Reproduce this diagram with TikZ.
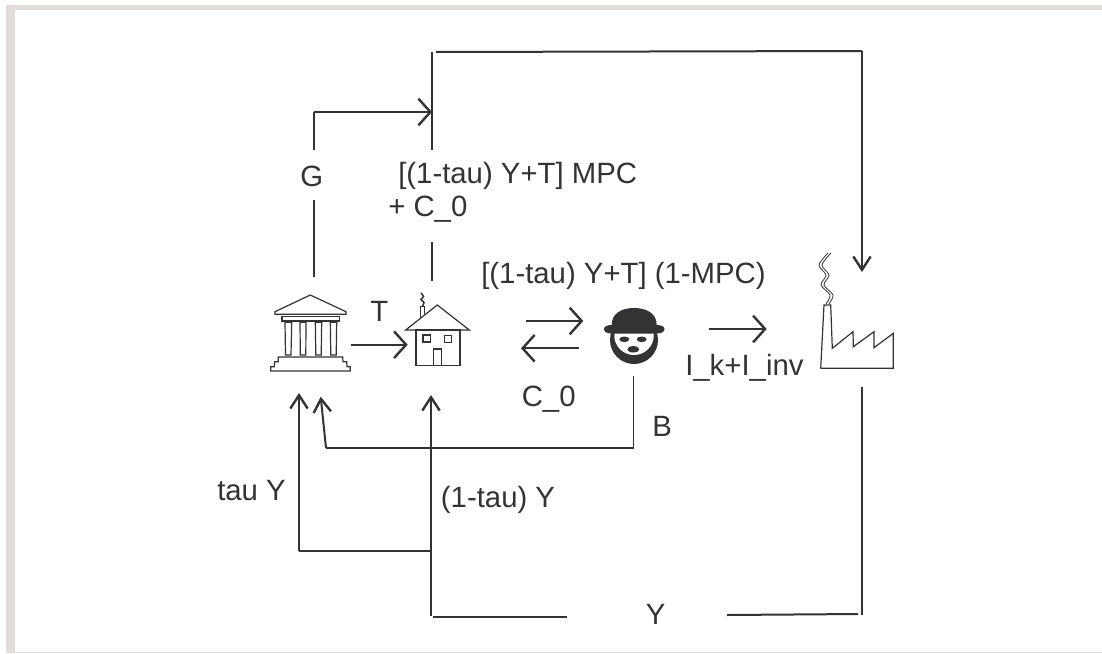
\documentclass[tikz,border=0pt]{standalone}
\usepackage{fontspec}
\setmainfont{Liberation Sans}
\usetikzlibrary{arrows.meta}
\definecolor{inkgrey}{HTML}{333336}
\definecolor{framegrey}{HTML}{E2DDDB}
\tikzset{
  label/.style={anchor=base west,inner sep=0pt,text=inkgrey,font=\fontsize{22}{26}\selectfont},
  flow/.style={draw=inkgrey,line width=1.5pt},
  thinflow/.style={draw=inkgrey,line width=1pt},
  icon/.style={draw=inkgrey,line width=.9pt,line join=miter},
  wide/.style={-{Straight Barb[length=9pt,width=20pt,line width=1.8pt]}},
  narrow/.style={-{Straight Barb[length=10pt,width=13pt,line width=1.8pt]}}
}
\begin{document}
\begin{tikzpicture}[x=.75pt,y=-.75pt]
      \useasboundingbox (0,0) rectangle (1102,653);
      % frame
      \fill[framegrey] (6,5) rectangle (1102,10);
      \fill[framegrey] (6,5) rectangle (14.5,653);
      \fill[framegrey] (14.5,651.5) rectangle (1102,653);
      % ends of the connectors
      \coordinate (topleft) at (432,52);
      \coordinate (topstart) at (436,52);
      \coordinate (topright) at (862,51);
      \coordinate (factorytop) at (862,272);
      \coordinate (mpcabove) at (432,150);
      \coordinate (mpcbelow) at (432,242);
      \coordinate (housetop) at (432,281);
      \coordinate (gabove) at (314,150);
      \coordinate (gbelow) at (314,200);
      \coordinate (govtop) at (314,277);
      \coordinate (gcorner) at (314,112);
      \coordinate (gend) at (432,112);
      \coordinate (taxstart) at (351,344.7);
      \coordinate (housein) at (407.7,344.7);
      \coordinate (savestart) at (526,321);
      \coordinate (saveend) at (583.3,321);
      \coordinate (lendstart) at (579,348.3);
      \coordinate (lendend) at (521,348.3);
      \coordinate (investstart) at (709,329);
      \coordinate (investend) at (766.7,329);
      \coordinate (bondstart) at (633.7,376);
      \coordinate (bondcorner) at (633.7,448);
      \coordinate (bondturn) at (326,448);
      \coordinate (bondend) at (320.7,396.7);
      \coordinate (taustart) at (431,551);
      \coordinate (taucorner) at (299,551);
      \coordinate (tauend) at (299,393);
      \coordinate (incomefoot) at (431,616);
      \coordinate (incomeend) at (431,395);
      \coordinate (yleftfoot) at (433,617);
      \coordinate (yleftend) at (567,617);
      \coordinate (yrightend) at (727,615);
      \coordinate (yrightfoot) at (858,614);
      \coordinate (factorybase) at (861.5,615);
      \coordinate (factorylow) at (861.5,387);
      % labels
      \node[label] (g) at (300,186) {G};
      \node[label] (mpc) at (398,183) {[(1-tau) Y+T] MPC};
      \node[label] (czeroplus) at (388,216) {+ C\_0};
      \node[label] (save) at (481,283) {[(1-tau) Y+T] (1-MPC)};
      \node[label] (t) at (370,321.7) {T};
      \node[label] (invest) at (685,375) {I\_k+I\_inv};
      \node[label] (czero) at (521.5,406) {C\_0};
      \node[label] (b) at (652,436) {B};
      \node[label] (tauy) at (217,500.7) {tau Y};
      \node[label] (income) at (440.7,507.7) {(1-tau) Y};
      \node[label] (y) at (645.7,624.3) {Y};
      % connectors
      \begin{scope}[flow]
        \draw (topstart) to (topright);
        \draw (topleft) to (mpcabove);
        \draw (gbelow) to (govtop);
        \draw (gabove) to (gcorner);
        \draw (mpcbelow) to (housetop);
        \draw[wide] (gcorner) to (gend);
        \draw[wide] (taxstart) to (housein);
        \draw[wide] (savestart) to (saveend);
        \draw[wide] (lendstart) to (lendend);
        \draw[wide] (investstart) to (investend);
        \draw[narrow] (topright) to (factorytop);
        \draw[narrow] (taucorner) to (tauend);
        \draw (taustart) to (taucorner);
        \draw[narrow] (incomefoot) to (incomeend);
        \draw (yleftfoot) to (yleftend);
        \draw (yrightend) to (yrightfoot);
        \draw (factorylow) to (factorybase);
        \draw[narrow] (bondturn) to (bondend);
      \end{scope}
      \draw[thinflow] (bondstart) to (bondcorner) to (bondturn);
      % government
      \begin{scope}[icon]
        \draw (275,311.7) -- (310.3,295) -- (346,311.7) -- (346,314.3) -- (275,314.3) -- cycle;
        \draw (282,316.3) rectangle (339.3,321);
        \draw (285,322.3) -- (291.7,322.3) -- (291,355) -- (285.5,355) -- cycle;
        \draw (300,322.3) -- (306,322.3) -- (305.8,355) -- (300.3,355) -- cycle;
        \draw (315.3,322.3) -- (321.7,322.3) -- (321.2,355) -- (315.8,355) -- cycle;
        \draw (330.3,322.3) -- (336.7,322.3) -- (336.2,355) -- (330.8,355) -- cycle;
        \draw (278.3,357) -- (342.7,357) -- (343,361.7) -- (346.7,361.7) -- (347,366.7) -- (350.3,366.7)
          -- (350.3,371) -- (270.7,371) -- (270.7,366.7) -- (274.3,366.7) -- (274.6,361.7) -- (278.3,361.7) -- cycle;
      \end{scope}
      % house
      \begin{scope}[icon]
        \draw (405.7,330) -- (437.3,305) -- (469.3,330) -- cycle;
        \draw (416,330) rectangle (460,365.3);
        \draw (423,335) rectangle (430.3,342);
        \draw (444.3,335.3) rectangle (451.7,342.3);
        \draw (433.3,365.3) -- (433.3,349) -- (441.7,349) -- (441.7,365.3);
        \draw (420.3,318) -- (420.3,306.7) -- (424.7,306.7) -- (424.7,314);
        \draw[line width=1.1pt] plot[smooth] coordinates {(422.5,306) (424,302.5) (421,299.5) (423.5,296.5) (421,293)};
      \end{scope}
      % banker
      \fill[inkgrey] (634,340) circle (24);
      \fill[white] (614.5,332) rectangle (653.5,336) (634,337) ellipse (19.5 and 15);
      \fill[white] (634,336) ellipse (19.5 and 19);
      \fill[inkgrey] (611.7,325) .. controls (611.7,313) and (622,308) .. (634,308)
        .. controls (646,308) and (656.7,313) .. (656.7,325)
        .. controls (661,325) and (664.5,326.5) .. (664.5,329)
        .. controls (664.5,332) and (661,333.5) .. (656.7,333.5)
        -- (611.7,333.5) .. controls (607,333.5) and (604,332) .. (604,329)
        .. controls (604,326.5) and (607,325) .. (611.7,325) -- cycle;
      \fill[inkgrey] (624.3,339.3) ellipse (5 and 2.8);
      \fill[inkgrey] (641.7,339.3) ellipse (5 and 2.8);
      \fill[inkgrey] (633.3,349.3) ellipse (6 and 3.2);
      % factory
      \begin{scope}[icon]
        \draw (820.7,368.3) -- (893.3,368.3) -- (893.3,333.3) -- (874,347.7) -- (874,331.7) -- (853.3,346.7)
          -- (853,331.7) -- (832.3,348.3) -- (830.7,305) -- (824,305) -- (820.7,368.3);
        \draw[line width=.6pt] plot[smooth] coordinates {(826,304) (830,295) (821,285) (826,275) (819,265) (828,253)};
        \draw[line width=.6pt] plot[smooth] coordinates {(829,304) (833,295) (824,285) (829,275) (822,265) (831,253)};
      \end{scope}
    \end{tikzpicture}
\end{document}
